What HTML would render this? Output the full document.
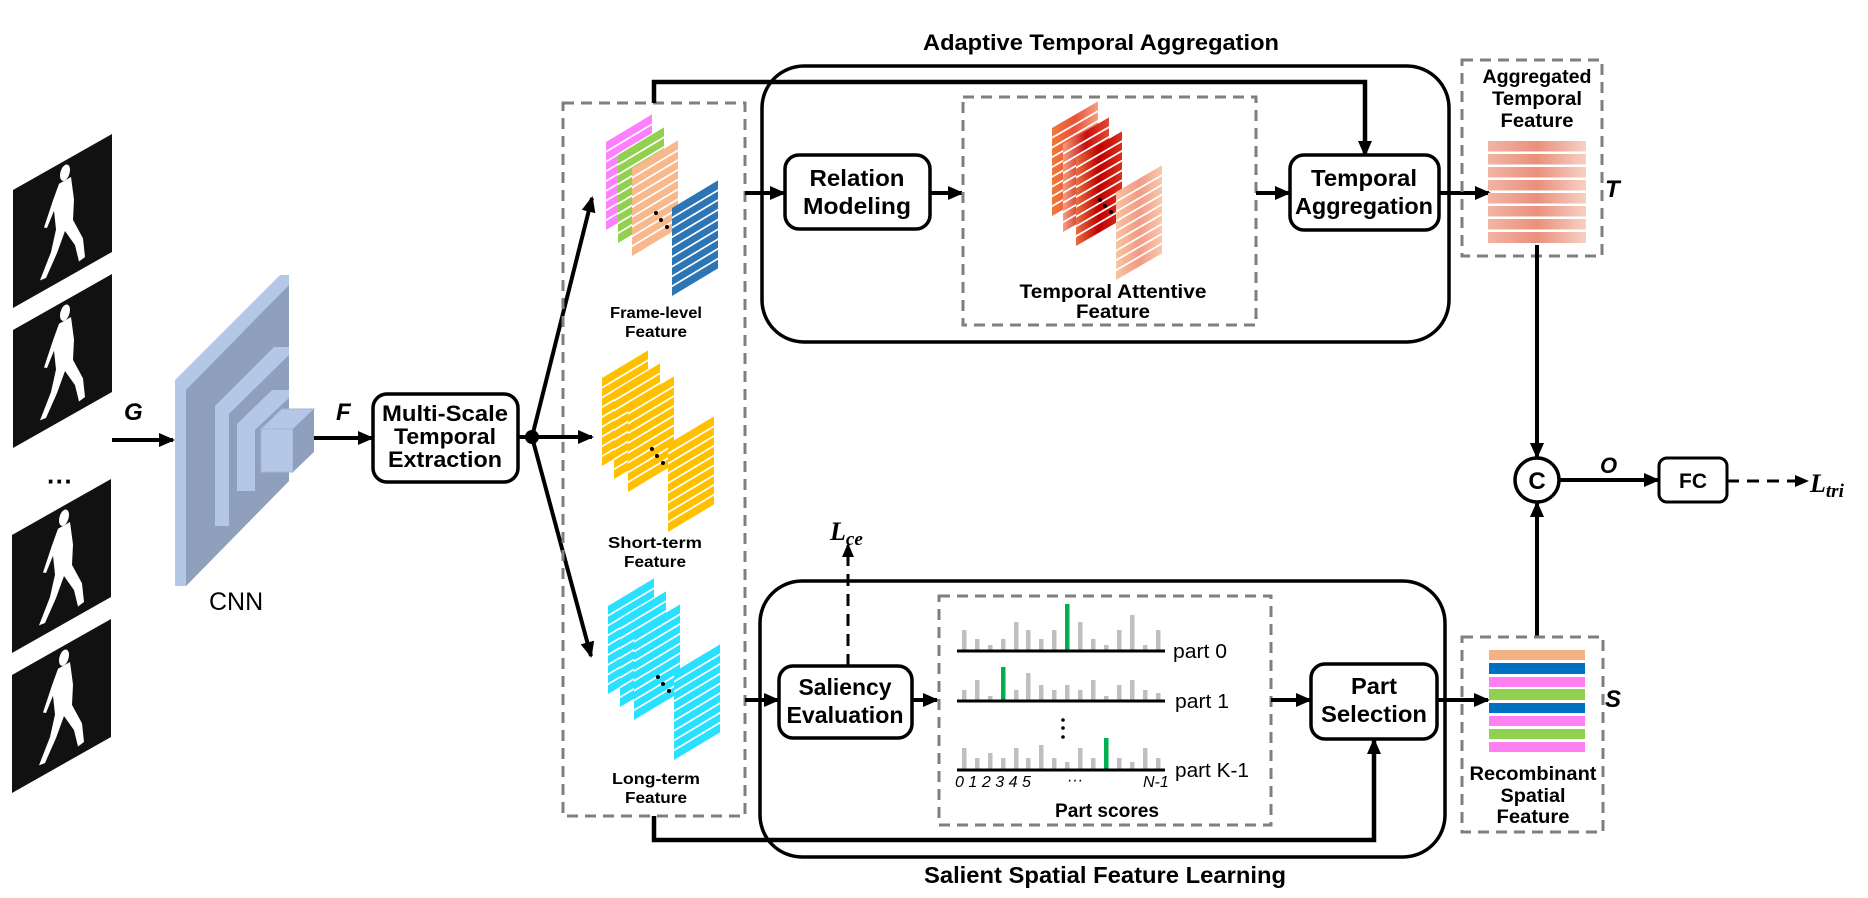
<!DOCTYPE html>
<html><head><meta charset="utf-8"><style>
html,body{margin:0;padding:0;background:#fff;}
svg{display:block;}
text{font-family:"Liberation Sans",sans-serif;}
.b{font-weight:bold;}
</style></head><body>
<svg width="1868" height="898" viewBox="0 0 1868 898" xmlns="http://www.w3.org/2000/svg">
<defs>
<marker id="ah" markerUnits="userSpaceOnUse" markerWidth="16" markerHeight="16" refX="14" refY="8" orient="auto"><path d="M0,1 L16,8 L0,15 z" fill="#000"/></marker>
<marker id="ahs" markerUnits="userSpaceOnUse" markerWidth="14" markerHeight="14" refX="12" refY="7" orient="auto"><path d="M0,1 L14,7 L0,13 z" fill="#000"/></marker>
<linearGradient id="agg" x1="0" x2="1" y1="0" y2="0"><stop offset="0" stop-color="#F2B4A4"/><stop offset="0.5" stop-color="#E9907C"/><stop offset="1" stop-color="#F7D0C4"/></linearGradient>
<linearGradient id="t1" x1="0" x2="1"><stop offset="0" stop-color="#F07A3A"/><stop offset="0.5" stop-color="#E8503A"/><stop offset="1" stop-color="#F7A080"/></linearGradient>
<linearGradient id="t2" x1="0" x2="1"><stop offset="0" stop-color="#F4A080"/><stop offset="0.5" stop-color="#C81010"/><stop offset="1" stop-color="#E04A30"/></linearGradient>
<linearGradient id="t3" x1="0" x2="1"><stop offset="0" stop-color="#E87040"/><stop offset="0.5" stop-color="#C00000"/><stop offset="1" stop-color="#D83020"/></linearGradient>
<linearGradient id="t4" x1="0" x2="1"><stop offset="0" stop-color="#F9C4A0"/><stop offset="0.5" stop-color="#F29A86"/><stop offset="1" stop-color="#F9C8AA"/></linearGradient>
<g id="plane0">
  <rect x="0" y="0" width="46" height="88"/>
  <g stroke="#fff" stroke-width="2">
    <line x1="0" y1="9.8" x2="46" y2="9.8"/><line x1="0" y1="19.6" x2="46" y2="19.6"/><line x1="0" y1="29.3" x2="46" y2="29.3"/><line x1="0" y1="39.1" x2="46" y2="39.1"/><line x1="0" y1="48.9" x2="46" y2="48.9"/><line x1="0" y1="58.7" x2="46" y2="58.7"/><line x1="0" y1="68.4" x2="46" y2="68.4"/><line x1="0" y1="78.2" x2="46" y2="78.2"/>
  </g>
</g>
<g id="sil">
  <rect x="0" y="0" width="99" height="118" fill="#111"/>
  <g fill="#fff" transform="scale(1,1.1)">
    <ellipse cx="52" cy="11" rx="5" ry="7"/>
    <path d="M46,18 L58,18 L61,40 L60,58 L70,80 L72,98 L66,99 L62,82 L52,64 L44,80 L33,97 L27,96 L38,76 L43,58 L41,40 L34,52 L31,50 L40,30 Z"/>
  </g>
</g>
</defs>

<use href="#sil" transform="matrix(1,-0.566,0,1,13,190)"/>
<use href="#sil" transform="matrix(1,-0.566,0,1,13,330)"/>
<text x="47" y="490" font-size="26" class="b">···</text>
<use href="#sil" transform="matrix(1,-0.566,0,1,12,535)"/>
<use href="#sil" transform="matrix(1,-0.566,0,1,12,675)"/>

<text x="124" y="420" font-size="24" class="b" font-style="italic">G</text>
<line x1="112" y1="440" x2="173" y2="440" stroke="#000" stroke-width="4" marker-end="url(#ah)"/>

<polygon points="175,380 280,275 289,275 289,481 186,586 175,586" fill="#B4C7E7"/>
<polygon points="186,390 289,285 289,481 186,586" fill="#8FA0BC"/>
<polygon points="215,406 274,347 289,347 289,355 229,414 229,526 215,526" fill="#B4C7E7"/>
<polygon points="229,414 289,355 289,464 229,522" fill="#8FA0BC"/>
<polygon points="237,424 272,390 289,390 289,398 255,430 255,491 237,491" fill="#B4C7E7"/>
<polygon points="255,430 289,398 289,460 255,488" fill="#8FA0BC"/>
<polygon points="261,429 282,409 314,409 293,429" fill="#B4C7E7" stroke="#A4B6D6"/>
<rect x="261" y="429" width="32" height="43" fill="#B4C7E7" stroke="#A4B6D6"/>
<polygon points="293,429 314,409 314,452 293,472" fill="#8FA0BC"/>
<text x="209" y="610" font-size="25">CNN</text>

<text x="336" y="420" font-size="24" class="b" font-style="italic">F</text>
<line x1="314" y1="438" x2="372" y2="438" stroke="#000" stroke-width="4" marker-end="url(#ah)"/>

<rect x="373" y="394" width="145" height="88" rx="14" fill="#fff" stroke="#000" stroke-width="3.5"/>
<g font-size="22" class="b" text-anchor="middle">
<text x="445" y="421" textLength="126" lengthAdjust="spacingAndGlyphs">Multi-Scale</text>
<text x="445" y="444" textLength="102" lengthAdjust="spacingAndGlyphs">Temporal</text>
<text x="445" y="467" textLength="114" lengthAdjust="spacingAndGlyphs">Extraction</text>
</g>
<line x1="518" y1="437" x2="532" y2="437" stroke="#000" stroke-width="4"/>
<circle cx="532" cy="437" r="7"/>
<line x1="532" y1="437" x2="592" y2="198" stroke="#000" stroke-width="4" marker-end="url(#ah)"/>
<line x1="532" y1="437" x2="592" y2="437" stroke="#000" stroke-width="4" marker-end="url(#ah)"/>
<line x1="532" y1="437" x2="591" y2="656" stroke="#000" stroke-width="4" marker-end="url(#ah)"/>

<rect x="563" y="103" width="182" height="713" fill="none" stroke="#7F7F7F" stroke-width="3" stroke-dasharray="11,7"/>

<g transform="matrix(1,-0.6,0,1,606,142)" fill="#FF80FF"><use href="#plane0"/></g>
<g transform="matrix(1,-0.6,0,1,618,155)" fill="#92D050"><use href="#plane0"/></g>
<g transform="matrix(1,-0.6,0,1,632,168)" fill="#F8B88B"><use href="#plane0"/></g>
<g transform="matrix(1,-0.6,0,1,672,208)" fill="#2E75B6"><use href="#plane0"/></g>
<g fill="#000"><circle cx="656" cy="213" r="2"/><circle cx="661" cy="220" r="2"/><circle cx="667" cy="227" r="2"/></g>
<g font-size="16" class="b" text-anchor="middle">
<text x="656" y="318" textLength="92" lengthAdjust="spacingAndGlyphs">Frame-level</text>
<text x="656" y="337" textLength="62" lengthAdjust="spacingAndGlyphs">Feature</text>
</g>
<g transform="matrix(1,-0.6,0,1,602,378)" fill="#FFC000"><use href="#plane0"/></g>
<g transform="matrix(1,-0.6,0,1,614,391)" fill="#FFC000"><use href="#plane0"/></g>
<g transform="matrix(1,-0.6,0,1,628,404)" fill="#FFC000"><use href="#plane0"/></g>
<g transform="matrix(1,-0.6,0,1,668,444)" fill="#FFC000"><use href="#plane0"/></g>
<g fill="#000"><circle cx="652" cy="449" r="2"/><circle cx="657" cy="456" r="2"/><circle cx="663" cy="463" r="2"/></g>
<g font-size="16" class="b" text-anchor="middle">
<text x="655" y="548" textLength="94" lengthAdjust="spacingAndGlyphs">Short-term</text>
<text x="655" y="567" textLength="62" lengthAdjust="spacingAndGlyphs">Feature</text>
</g>
<g transform="matrix(1,-0.6,0,1,608,606)" fill="#29E0FF"><use href="#plane0"/></g>
<g transform="matrix(1,-0.6,0,1,620,619)" fill="#29E0FF"><use href="#plane0"/></g>
<g transform="matrix(1,-0.6,0,1,634,632)" fill="#29E0FF"><use href="#plane0"/></g>
<g transform="matrix(1,-0.6,0,1,674,672)" fill="#29E0FF"><use href="#plane0"/></g>
<g fill="#000"><circle cx="658" cy="677" r="2"/><circle cx="663" cy="684" r="2"/><circle cx="669" cy="691" r="2"/></g>
<g font-size="16" class="b" text-anchor="middle">
<text x="656" y="784" textLength="88" lengthAdjust="spacingAndGlyphs">Long-term</text>
<text x="656" y="803" textLength="62" lengthAdjust="spacingAndGlyphs">Feature</text>
</g>

<text x="1101" y="50" font-size="22" class="b" text-anchor="middle" textLength="356" lengthAdjust="spacingAndGlyphs">Adaptive Temporal Aggregation</text>
<rect x="762" y="66" width="687" height="276" rx="42" fill="none" stroke="#000" stroke-width="3.5"/>
<polyline points="654,103 654,82 1365,82 1365,155" fill="none" stroke="#000" stroke-width="4.5" marker-end="url(#ah)"/>
<line x1="745" y1="193" x2="784" y2="193" stroke="#000" stroke-width="4" marker-end="url(#ah)"/>
<rect x="785" y="155" width="145" height="74" rx="14" fill="#fff" stroke="#000" stroke-width="3.5"/>
<g font-size="23" class="b" text-anchor="middle">
<text x="857" y="186" textLength="95" lengthAdjust="spacingAndGlyphs">Relation</text>
<text x="857" y="214" textLength="108" lengthAdjust="spacingAndGlyphs">Modeling</text>
</g>
<line x1="930" y1="193" x2="962" y2="193" stroke="#000" stroke-width="4" marker-end="url(#ah)"/>
<rect x="963" y="97" width="293" height="228" fill="none" stroke="#7F7F7F" stroke-width="3" stroke-dasharray="11,7"/>
<g transform="matrix(1,-0.58,0,1,1052,128)" fill="url(#t1)"><use href="#plane0"/></g>
<g transform="matrix(1,-0.58,0,1,1063,144)" fill="url(#t2)"><use href="#plane0"/></g>
<g transform="matrix(1,-0.58,0,1,1076,158)" fill="url(#t3)"><use href="#plane0"/></g>
<g transform="matrix(1,-0.58,0,1,1116,192)" fill="url(#t4)"><use href="#plane0"/></g>
<g fill="#000"><circle cx="1100" cy="200" r="2"/><circle cx="1105" cy="206" r="2"/><circle cx="1111" cy="212" r="2"/></g>
<g font-size="19" class="b" text-anchor="middle">
<text x="1113" y="298" textLength="187" lengthAdjust="spacingAndGlyphs">Temporal Attentive</text>
<text x="1113" y="318" textLength="74" lengthAdjust="spacingAndGlyphs">Feature</text>
</g>
<line x1="1256" y1="193" x2="1289" y2="193" stroke="#000" stroke-width="4" marker-end="url(#ah)"/>
<rect x="1290" y="155" width="149" height="75" rx="14" fill="#fff" stroke="#000" stroke-width="3.5"/>
<g font-size="23" class="b" text-anchor="middle">
<text x="1364" y="186" textLength="106" lengthAdjust="spacingAndGlyphs">Temporal</text>
<text x="1364" y="214" textLength="138" lengthAdjust="spacingAndGlyphs">Aggregation</text>
</g>
<line x1="1439" y1="193" x2="1489" y2="193" stroke="#000" stroke-width="4" marker-end="url(#ah)"/>

<rect x="1462" y="60" width="140" height="196" fill="none" stroke="#7F7F7F" stroke-width="3" stroke-dasharray="11,7"/>
<g font-size="19" class="b" text-anchor="middle">
<text x="1537" y="83" textLength="109" lengthAdjust="spacingAndGlyphs">Aggregated</text>
<text x="1537" y="105" textLength="90" lengthAdjust="spacingAndGlyphs">Temporal</text>
<text x="1537" y="127" textLength="73" lengthAdjust="spacingAndGlyphs">Feature</text>
</g>
<g fill="url(#agg)">
<rect x="1488" y="141" width="98" height="10.5"/><rect x="1488" y="154" width="98" height="10.5"/><rect x="1488" y="167" width="98" height="10.5"/><rect x="1488" y="180" width="98" height="10.5"/><rect x="1488" y="193" width="98" height="10.5"/><rect x="1488" y="206" width="98" height="10.5"/><rect x="1488" y="219" width="98" height="10.5"/><rect x="1488" y="232" width="98" height="11"/>
</g>
<text x="1605" y="197" font-size="24" class="b" font-style="italic">T</text>
<line x1="1537" y1="245" x2="1537" y2="457" stroke="#000" stroke-width="4" marker-end="url(#ah)"/>

<circle cx="1537" cy="480" r="22" fill="#fff" stroke="#000" stroke-width="3.5"/>
<text x="1537" y="489" font-size="24" class="b" text-anchor="middle">C</text>
<text x="1600" y="473" font-size="22" class="b" font-style="italic">O</text>
<line x1="1559" y1="480" x2="1658" y2="480" stroke="#000" stroke-width="4" marker-end="url(#ah)"/>
<rect x="1659" y="458" width="68" height="44" rx="8" fill="#fff" stroke="#000" stroke-width="3"/>
<text x="1693" y="488" font-size="21" class="b" text-anchor="middle">FC</text>
<line x1="1727" y1="481" x2="1807" y2="481" stroke="#000" stroke-width="3" stroke-dasharray="12,8" marker-end="url(#ahs)"/>
<text x="1810" y="492" font-size="26" font-style="italic" font-weight="bold" style="font-family:'Liberation Serif',serif">L<tspan font-size="19" dy="5">tri</tspan></text>
<line x1="1537" y1="638" x2="1537" y2="503" stroke="#000" stroke-width="4" marker-end="url(#ah)"/>

<rect x="760" y="581" width="685" height="276" rx="42" fill="none" stroke="#000" stroke-width="3.5"/>
<text x="1105" y="883" font-size="23" class="b" text-anchor="middle" textLength="362" lengthAdjust="spacingAndGlyphs">Salient Spatial Feature Learning</text>
<polyline points="654,816 654,840 1374,840 1374,740" fill="none" stroke="#000" stroke-width="4.5" marker-end="url(#ah)"/>
<line x1="745" y1="700" x2="778" y2="700" stroke="#000" stroke-width="4" marker-end="url(#ah)"/>
<rect x="779" y="666" width="133" height="72" rx="14" fill="#fff" stroke="#000" stroke-width="3.5"/>
<g font-size="23" class="b" text-anchor="middle">
<text x="845" y="695" textLength="93" lengthAdjust="spacingAndGlyphs">Saliency</text>
<text x="845" y="723" textLength="117" lengthAdjust="spacingAndGlyphs">Evaluation</text>
</g>
<line x1="848" y1="666" x2="848" y2="545" stroke="#000" stroke-width="3" stroke-dasharray="12,8" marker-end="url(#ahs)"/>
<text x="830" y="540" font-size="26" font-style="italic" font-weight="bold" style="font-family:'Liberation Serif',serif">L<tspan font-size="19" dy="5">ce</tspan></text>
<line x1="912" y1="700" x2="937" y2="700" stroke="#000" stroke-width="4" marker-end="url(#ah)"/>

<rect x="939" y="596" width="332" height="229" fill="none" stroke="#7F7F7F" stroke-width="3" stroke-dasharray="11,7"/>
<g>
<g fill="#BFBFBF">
<rect x="962" y="630" width="4.5" height="21"/><rect x="975" y="639" width="4.5" height="12"/><rect x="988" y="645" width="4.5" height="6"/><rect x="1001" y="639" width="4.5" height="12"/><rect x="1014" y="622" width="4.5" height="29"/><rect x="1026" y="630" width="4.5" height="21"/><rect x="1039" y="639" width="4.5" height="12"/><rect x="1052" y="630" width="4.5" height="21"/><rect x="1078" y="622" width="4.5" height="29"/><rect x="1091" y="639" width="4.5" height="12"/><rect x="1104" y="645" width="4.5" height="6"/><rect x="1117" y="630" width="4.5" height="21"/><rect x="1130" y="615" width="4.5" height="36"/><rect x="1143" y="645" width="4.5" height="6"/><rect x="1156" y="630" width="4.5" height="21"/>
</g>
<rect x="1065" y="604" width="4.5" height="47" fill="#00B050"/>
<line x1="957" y1="651" x2="1165" y2="651" stroke="#000" stroke-width="3"/>
<g fill="#BFBFBF">
<rect x="962" y="690" width="4.5" height="11"/><rect x="975" y="680" width="4.5" height="21"/><rect x="988" y="696" width="4.5" height="5"/><rect x="1014" y="690" width="4.5" height="11"/><rect x="1026" y="673" width="4.5" height="28"/><rect x="1039" y="685" width="4.5" height="16"/><rect x="1052" y="690" width="4.5" height="11"/><rect x="1065" y="685" width="4.5" height="16"/><rect x="1078" y="690" width="4.5" height="11"/><rect x="1091" y="680" width="4.5" height="21"/><rect x="1104" y="696" width="4.5" height="5"/><rect x="1117" y="685" width="4.5" height="16"/><rect x="1130" y="680" width="4.5" height="21"/><rect x="1143" y="690" width="4.5" height="11"/><rect x="1156" y="693" width="4.5" height="8"/>
</g>
<rect x="1001" y="667" width="4.5" height="34" fill="#00B050"/>
<line x1="957" y1="701" x2="1165" y2="701" stroke="#000" stroke-width="3"/>
<g fill="#BFBFBF">
<rect x="962" y="748" width="4.5" height="22"/><rect x="975" y="758" width="4.5" height="12"/><rect x="988" y="753" width="4.5" height="17"/><rect x="1001" y="758" width="4.5" height="12"/><rect x="1014" y="748" width="4.5" height="22"/><rect x="1026" y="758" width="4.5" height="12"/><rect x="1039" y="745" width="4.5" height="25"/><rect x="1052" y="758" width="4.5" height="12"/><rect x="1065" y="762" width="4.5" height="8"/><rect x="1078" y="748" width="4.5" height="22"/><rect x="1091" y="758" width="4.5" height="12"/><rect x="1117" y="758" width="4.5" height="12"/><rect x="1130" y="762" width="4.5" height="8"/><rect x="1143" y="748" width="4.5" height="22"/><rect x="1156" y="758" width="4.5" height="12"/>
</g>
<rect x="1104" y="738" width="4.5" height="32" fill="#00B050"/>
<line x1="957" y1="770" x2="1165" y2="770" stroke="#000" stroke-width="3"/>
</g>
<g fill="#000"><circle cx="1063" cy="720" r="1.8"/><circle cx="1063" cy="728" r="1.8"/><circle cx="1063" cy="737" r="1.8"/></g>
<g font-size="20">
<text x="1173" y="658" textLength="54" lengthAdjust="spacingAndGlyphs">part 0</text>
<text x="1175" y="708" textLength="54" lengthAdjust="spacingAndGlyphs">part 1</text>
<text x="1175" y="777" textLength="74" lengthAdjust="spacingAndGlyphs">part K-1</text>
</g>
<g font-size="16" font-style="italic">
<text x="955" y="787" textLength="76" lengthAdjust="spacingAndGlyphs">0 1 2 3 4 5</text>
<text x="1067" y="785">···</text>
<text x="1143" y="787">N-1</text>
</g>
<text x="1107" y="817" font-size="19" class="b" text-anchor="middle" textLength="104" lengthAdjust="spacingAndGlyphs">Part scores</text>
<line x1="1271" y1="700" x2="1310" y2="700" stroke="#000" stroke-width="4" marker-end="url(#ah)"/>
<rect x="1311" y="664" width="126" height="75" rx="14" fill="#fff" stroke="#000" stroke-width="3.5"/>
<g font-size="23" class="b" text-anchor="middle">
<text x="1374" y="694" textLength="46" lengthAdjust="spacingAndGlyphs">Part</text>
<text x="1374" y="722" textLength="106" lengthAdjust="spacingAndGlyphs">Selection</text>
</g>
<line x1="1437" y1="700" x2="1488" y2="700" stroke="#000" stroke-width="4" marker-end="url(#ah)"/>

<rect x="1462" y="637" width="141" height="195" fill="none" stroke="#7F7F7F" stroke-width="3" stroke-dasharray="11,7"/>
<rect x="1489" y="650" width="96" height="10" fill="#F4B183"/>
<rect x="1489" y="663" width="96" height="11" fill="#0070C0"/>
<rect x="1489" y="677" width="96" height="10" fill="#FF80F0"/>
<rect x="1489" y="689" width="96" height="11" fill="#92D050"/>
<rect x="1489" y="703" width="96" height="10" fill="#0070C0"/>
<rect x="1489" y="716" width="96" height="10" fill="#FF80F0"/>
<rect x="1489" y="729" width="96" height="10" fill="#92D050"/>
<rect x="1489" y="742" width="96" height="10" fill="#FF80F0"/>
<text x="1605" y="707" font-size="24" class="b" font-style="italic">S</text>
<g font-size="19" class="b" text-anchor="middle">
<text x="1533" y="780" textLength="127" lengthAdjust="spacingAndGlyphs">Recombinant</text>
<text x="1533" y="802" textLength="65" lengthAdjust="spacingAndGlyphs">Spatial</text>
<text x="1533" y="823" textLength="73" lengthAdjust="spacingAndGlyphs">Feature</text>
</g>
</svg>
</body></html>
